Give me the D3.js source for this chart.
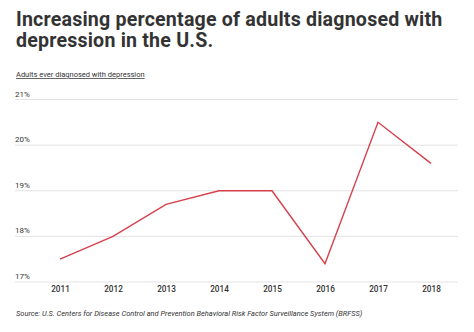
<!DOCTYPE html>
<html>
<head>
<meta charset="utf-8">
<script src="https://cdn.jsdelivr.net/npm/d3@7"></script>
<style>
  body { margin: 0; background: #fff; }
  text { font-family: Roboto, "Noto Sans", sans-serif; }
</style>
</head>
<body>
<script>
// chart data
var years = ["2011", "2012", "2013", "2014", "2015", "2016", "2017", "2018"];
var depression = [17.5, 18.0, 18.7, 19.0, 19.0, 17.4, 20.5, 19.6];
var yTicks = [17, 18, 19, 20, 21];

var w = 474, h = 332;

var svg = d3.select("body").append("svg")
    .attr("width", w)
    .attr("height", h);

// title, two lines
var title = svg.append("text")
    .attr("x", 16)
    .attr("y", 26)
    .attr("font-size", "19.6px")
    .attr("font-weight", "bold")
    .attr("letter-spacing", "0.2px")
    .attr("fill", "#333");
title.append("tspan").attr("x", 16).attr("dy", 0).text("Increasing percentage of adults diagnosed with");
title.append("tspan").attr("x", 16).attr("dy", 21).text("depression in the U.S.");

// subtitle, underlined
svg.append("text")
    .attr("x", 16)
    .attr("y", 77)
    .attr("font-size", "7.5px")
    .attr("fill", "#333")
    .attr("text-decoration", "underline")
    .text("Adults ever diagnosed with depression");

// scales
var x = d3.scalePoint().domain(years).range([60, 431]);
var y = d3.scaleLinear().domain([17, 21]).range([282, 99.5]);

// gridlines + labels
var grid = svg.append("g");
grid.selectAll("line")
    .data(yTicks)
    .enter()
    .append("line")
    .attr("x1", 15)
    .attr("x2", 458)
    .attr("y1", function(d) { return y(d); })
    .attr("y2", function(d) { return y(d); })
    .attr("stroke", "#e3e3e3")
    .attr("stroke-width", 1);

grid.selectAll("text")
    .data(yTicks)
    .enter()
    .append("text")
    .attr("x", 15)
    .attr("y", function(d) { return y(d) - 3; })
    .attr("font-size", "8px")
    .attr("fill", "#333")
    .text(function(d) { return d + "%"; });

// x axis labels
var xAxis = d3.axisBottom(x).tickSize(0).tickPadding(0);
var gx = svg.append("g")
    .attr("transform", "translate(0,285)")
    .call(xAxis);
gx.select(".domain").remove();
gx.selectAll("text")
    .attr("font-family", "Roboto, sans-serif")
    .attr("font-size", "8.2px")
    .attr("font-weight", 500)
    .attr("fill", "#333")
    .attr("dy", "0.9em");

// the line
var line = d3.line()
    .x(function(d, i) { return x(years[i]); })
    .y(function(d) { return y(d); });

svg.append("path")
    .datum(depression)
    .attr("d", line)
    .attr("fill", "none")
    .attr("stroke", "#d5404c")
    .attr("stroke-width", 1.4);

// source note
svg.append("text")
    .attr("x", 16)
    .attr("y", 316)
    .attr("font-size", "7.45px")
    .attr("font-style", "italic")
    .attr("fill", "#333")
    .text("Source: U.S. Centers for Disease Control and Prevention Behavioral Risk Factor Surveillance System (BRFSS)");
</script>
</body>
</html>
